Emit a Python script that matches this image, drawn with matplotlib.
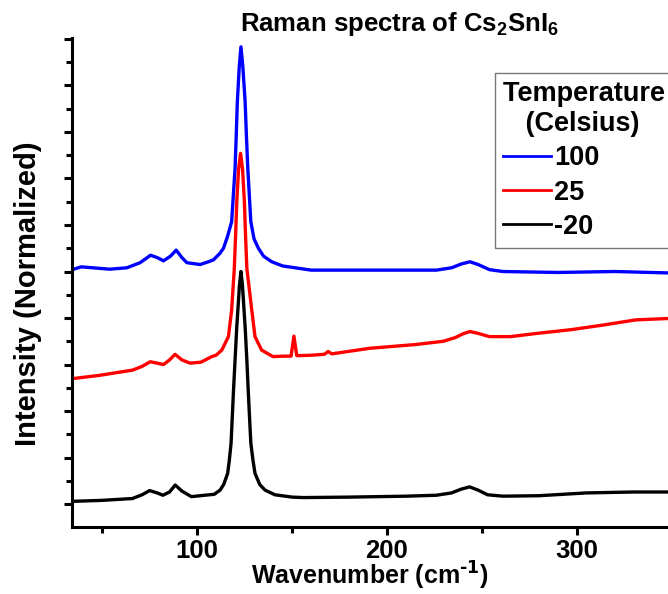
import matplotlib
matplotlib.use("Agg")
import matplotlib.pyplot as plt
from matplotlib.ticker import MultipleLocator

plt.rcParams['font.family'] = ['Liberation Sans', 'DejaVu Sans']
plt.rcParams['font.weight'] = 'bold'
plt.rcParams['mathtext.default'] = 'regular'

# Spectra (offset, normalized intensity)
# -20 C
wn_m20 = [35, 50, 66, 71, 75, 79, 82, 85.5, 88.5, 92, 97, 104, 109, 112.1, 114,
          116.1, 117, 117.9, 119.1, 120, 120.9, 121.6, 122.3, 123.1, 123.9,
          124.6, 125.3, 126.2, 127, 128.3, 129.4, 130.5, 133, 135.8, 141, 150,
          156, 180, 210, 226, 234, 239, 243.5, 248, 253, 261, 280, 305, 330, 348]
int_m20 = [0.06, 0.08, 0.12, 0.2, 0.29, 0.24, 0.19, 0.26, 0.41, 0.28, 0.16,
           0.19, 0.21, 0.30, 0.42, 0.66, 0.95, 1.31, 2.38, 3.1, 3.81, 4.25, 4.7,
           5.0, 4.7, 4.25, 3.81, 3.1, 2.38, 1.31, 0.95, 0.66, 0.42, 0.30, 0.2,
           0.15, 0.14, 0.15, 0.17, 0.19, 0.24, 0.32, 0.37, 0.3, 0.2, 0.17, 0.18,
           0.24, 0.26, 0.26]

# 25 C
wn_25 = [35, 49, 66, 71, 75.3, 79, 82.3, 85.5, 88.4, 92, 96.3, 102, 107.7, 110,
         113, 116.5, 118.2, 119.6, 120.3, 120.9, 121.85, 122.9, 123.95, 124.9,
         125.5, 126.2, 128.8, 130.5, 134, 140, 145, 149.5, 151, 152.5, 160,
         167, 169, 171, 191, 215, 229.6, 236, 240, 243.7, 248, 254, 265, 279,
         297, 314, 331, 348]
int_25 = [2.70, 2.77, 2.88, 2.96, 3.06, 3.03, 3.0, 3.1, 3.22, 3.1, 3.03, 3.05,
          3.17, 3.2, 3.31, 3.6, 4.17, 5.07, 5.8, 6.5, 7.2, 7.54, 7.2, 6.5, 5.8,
          5.07, 4.17, 3.6, 3.31, 3.17, 3.18, 3.18, 3.61, 3.19, 3.2, 3.22, 3.28,
          3.23, 3.35, 3.43, 3.5, 3.58, 3.66, 3.71, 3.67, 3.6, 3.6, 3.67, 3.75,
          3.85, 3.96, 3.99]

# 100 C
wn_100 = [35, 39, 54, 63, 70, 75.5, 79, 82.3, 86, 89, 92, 94.6, 101.6, 106,
          108.6, 112, 113.9, 116, 118.2, 120, 120.6, 121.2, 122.2, 123.1, 124.1,
          125.3, 126.0, 126.7, 128.3, 130, 132.3, 135, 139.3, 145, 160, 190,
          226, 234, 239, 243.7, 248, 254, 261, 290, 320, 348]
int_100 = [5.05, 5.1, 5.05, 5.08, 5.19, 5.35, 5.3, 5.23, 5.33, 5.46, 5.3, 5.19,
           5.15, 5.21, 5.25, 5.39, 5.5, 5.75, 6.07, 7.22, 7.9, 8.65, 9.4, 9.83,
           9.4, 8.65, 7.9, 7.22, 6.07, 5.7, 5.5, 5.33, 5.21, 5.12, 5.03, 5.03,
           5.03, 5.08, 5.16, 5.21, 5.15, 5.04, 5.0, 4.98, 5.0, 4.97]

x_ticks = [100, 200, 300]

fig = plt.figure(figsize=(6.68, 5.94), dpi=100)
ax = fig.add_axes([0.108, 0.113, 0.892, 0.823])

ax.plot(wn_100, int_100, color='#0000ff', lw=2.4, label='100')
ax.plot(wn_25, int_25, color='#ff0000', lw=2.4, label='25')
ax.plot(wn_m20, int_m20, color='black', lw=2.4, label='-20')

ax.set_xlim(34.2, 348)
ax.set_ylim(-0.49, 10.02)
ax.set_xticks(x_ticks)
ax.xaxis.set_minor_locator(MultipleLocator(50))
ax.yaxis.set_major_locator(MultipleLocator(1))
ax.yaxis.set_minor_locator(MultipleLocator(0.5))
ax.set_yticklabels([])

for s in ['top', 'right']:
    ax.spines[s].set_visible(False)
for s in ['left', 'bottom']:
    ax.spines[s].set_linewidth(2.2)
ax.tick_params(which='major', length=6, width=2.2, labelsize=18.5, pad=2.5)
ax.tick_params(which='minor', length=4, width=2.2)

ax.set_xlabel('Wavenumber (cm$^{\\text{-1}}$)', fontsize=18, fontweight='bold',
              labelpad=-2)
ax.set_ylabel('Intensity (Normalized)', fontsize=21, fontweight='bold')
ax.yaxis.set_label_coords(-0.05, 0.476)
ax.set_title('Raman spectra of Cs$_2$SnI$_6$', fontsize=18.5, fontweight='bold',
             x=0.55, pad=3)

# legend box runs past the right edge, as in the cropped original
leg = ax.legend(title='Temperature    \n   (Celsius)', loc='upper left',
                bbox_to_anchor=(0.71, 0.928), fontsize=19.5, title_fontsize=19.5,
                frameon=True, fancybox=False, handlelength=1.75, handletextpad=0.12,
                borderaxespad=0, borderpad=0.3, labelspacing=0.3,
                alignment='left')
leg.get_frame().set_edgecolor('#555555')
leg.get_frame().set_linewidth(1.0)
leg.get_title().set_fontweight('bold')
for line in leg.get_lines():
    line.set_linewidth(2.0)

fig.savefig('out.png', dpi=100)
